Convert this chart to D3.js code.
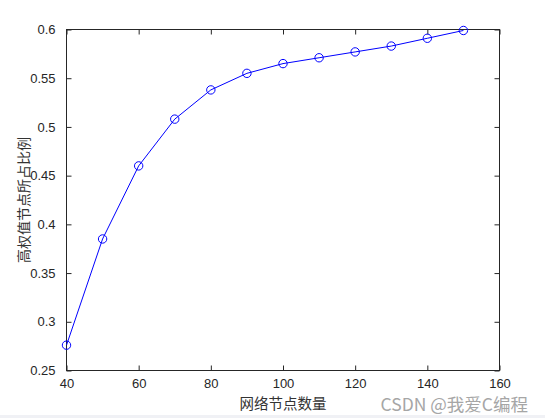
<!DOCTYPE html>
<html>
<head>
<meta charset="utf-8">
<script src="https://cdn.jsdelivr.net/npm/d3@7/dist/d3.min.js"></script>
<style>
  html, body { margin: 0; padding: 0; background: #ffffff; }
  svg { display: block; }
</style>
</head>
<body>
<script>
// ---- data ----
const nodeCounts = [40, 50, 60, 70, 80, 90, 100, 110, 120, 130, 140, 150];
const ratios = [0.276, 0.385, 0.460, 0.508, 0.538, 0.555, 0.565, 0.571, 0.577, 0.583, 0.591, 0.599];
const xTicks = [40, 60, 80, 100, 120, 140, 160];
const yTicks = [0.25, 0.3, 0.35, 0.4, 0.45, 0.5, 0.55, 0.6];
const xDomain = [40, 160];
const yDomain = [0.25, 0.6];
const xLabel = "网络节点数量";
const yLabel = "高权值节点所占比例";
const watermark = "CSDN @我爱C编程";

// ---- layout ----
const W = 545, H = 418;
const plot = { left: 66.5, right: 499.5, top: 29.5, bottom: 370.5 };

const svg = d3.select("body").append("svg")
  .attr("width", W).attr("height", H);

svg.append("rect").attr("width", W).attr("height", H).attr("fill", "#ffffff");
svg.append("rect").attr("x", 0).attr("y", 415).attr("width", W).attr("height", 3).attr("fill", "#f0f1f5");

const x = d3.scaleLinear().domain(xDomain).range([plot.left, plot.right]);
const y = d3.scaleLinear().domain(yDomain).range([plot.bottom, plot.top]);

const axisColor = "#262626";
const tickFont = "'Liberation Sans', Arial, Helvetica, sans-serif";
const cjkFont = "'Noto Sans CJK SC', sans-serif";

function styleAxis(g, showText) {
  g.select(".domain").remove();
  g.selectAll(".tick line").attr("stroke", axisColor).attr("stroke-width", 1);
  g.selectAll(".tick text")
    .attr("fill", axisColor)
    .style("font-family", tickFont)
    .style("font-size", "13px");
  if (!showText) g.selectAll(".tick text").remove();
}

// bottom axis
svg.append("g").attr("transform", `translate(0,${plot.bottom})`)
  .call(d3.axisBottom(x).tickValues(xTicks).tickSizeInner(-5).tickSizeOuter(0).tickPadding(8).tickFormat(d3.format("d")))
  .call(g => styleAxis(g, true));
// top axis (ticks only)
svg.append("g").attr("transform", `translate(0,${plot.top})`)
  .call(d3.axisTop(x).tickValues(xTicks).tickSizeInner(-5).tickSizeOuter(0))
  .call(g => styleAxis(g, false));
// left axis
svg.append("g").attr("transform", `translate(${plot.left},0)`)
  .call(d3.axisLeft(y).tickValues(yTicks).tickSizeInner(-5).tickSizeOuter(0).tickPadding(11).tickFormat(d => d3.format("")(+d.toFixed(2))))
  .call(g => styleAxis(g, true));
// right axis (ticks only)
svg.append("g").attr("transform", `translate(${plot.right},0)`)
  .call(d3.axisRight(y).tickValues(yTicks).tickSizeInner(-5).tickSizeOuter(0))
  .call(g => styleAxis(g, false));

// box
svg.append("rect")
  .attr("x", plot.left).attr("y", plot.top)
  .attr("width", plot.right - plot.left).attr("height", plot.bottom - plot.top)
  .attr("fill", "none").attr("stroke", axisColor).attr("stroke-width", 1);

// line
const pts = nodeCounts.map((n, i) => [n, ratios[i]]);
svg.append("path")
  .datum(pts)
  .attr("fill", "none")
  .attr("stroke", "#0000ff")
  .attr("stroke-width", 1)
  .attr("d", d3.line().x(d => x(d[0])).y(d => y(d[1])));

svg.append("g").selectAll("circle")
  .data(pts).join("circle")
  .attr("cx", d => x(d[0])).attr("cy", d => y(d[1]))
  .attr("r", 4.2)
  .attr("fill", "none")
  .attr("stroke", "#0000ff")
  .attr("stroke-width", 1);

// labels
svg.append("text")
  .attr("x", (plot.left + plot.right) / 2).attr("y", 409)
  .attr("text-anchor", "middle")
  .attr("fill", "#333333")
  .style("font-family", cjkFont).style("font-size", "14.5px")
  .text(xLabel);

svg.append("text")
  .attr("transform", `translate(29,${(plot.top + plot.bottom) / 2}) rotate(-90)`)
  .attr("text-anchor", "middle")
  .attr("fill", "#333333")
  .style("font-family", cjkFont).style("font-size", "14px")
  .text(yLabel);

// watermark
svg.append("text")
  .attr("x", 528).attr("y", 411)
  .attr("text-anchor", "end")
  .attr("fill", "#a6a6a6")
  .style("font-family", "'Noto Sans CJK SC', 'Liberation Sans', sans-serif")
  .style("font-size", "17.5px")
  .text(watermark);
</script>
</body>
</html>
